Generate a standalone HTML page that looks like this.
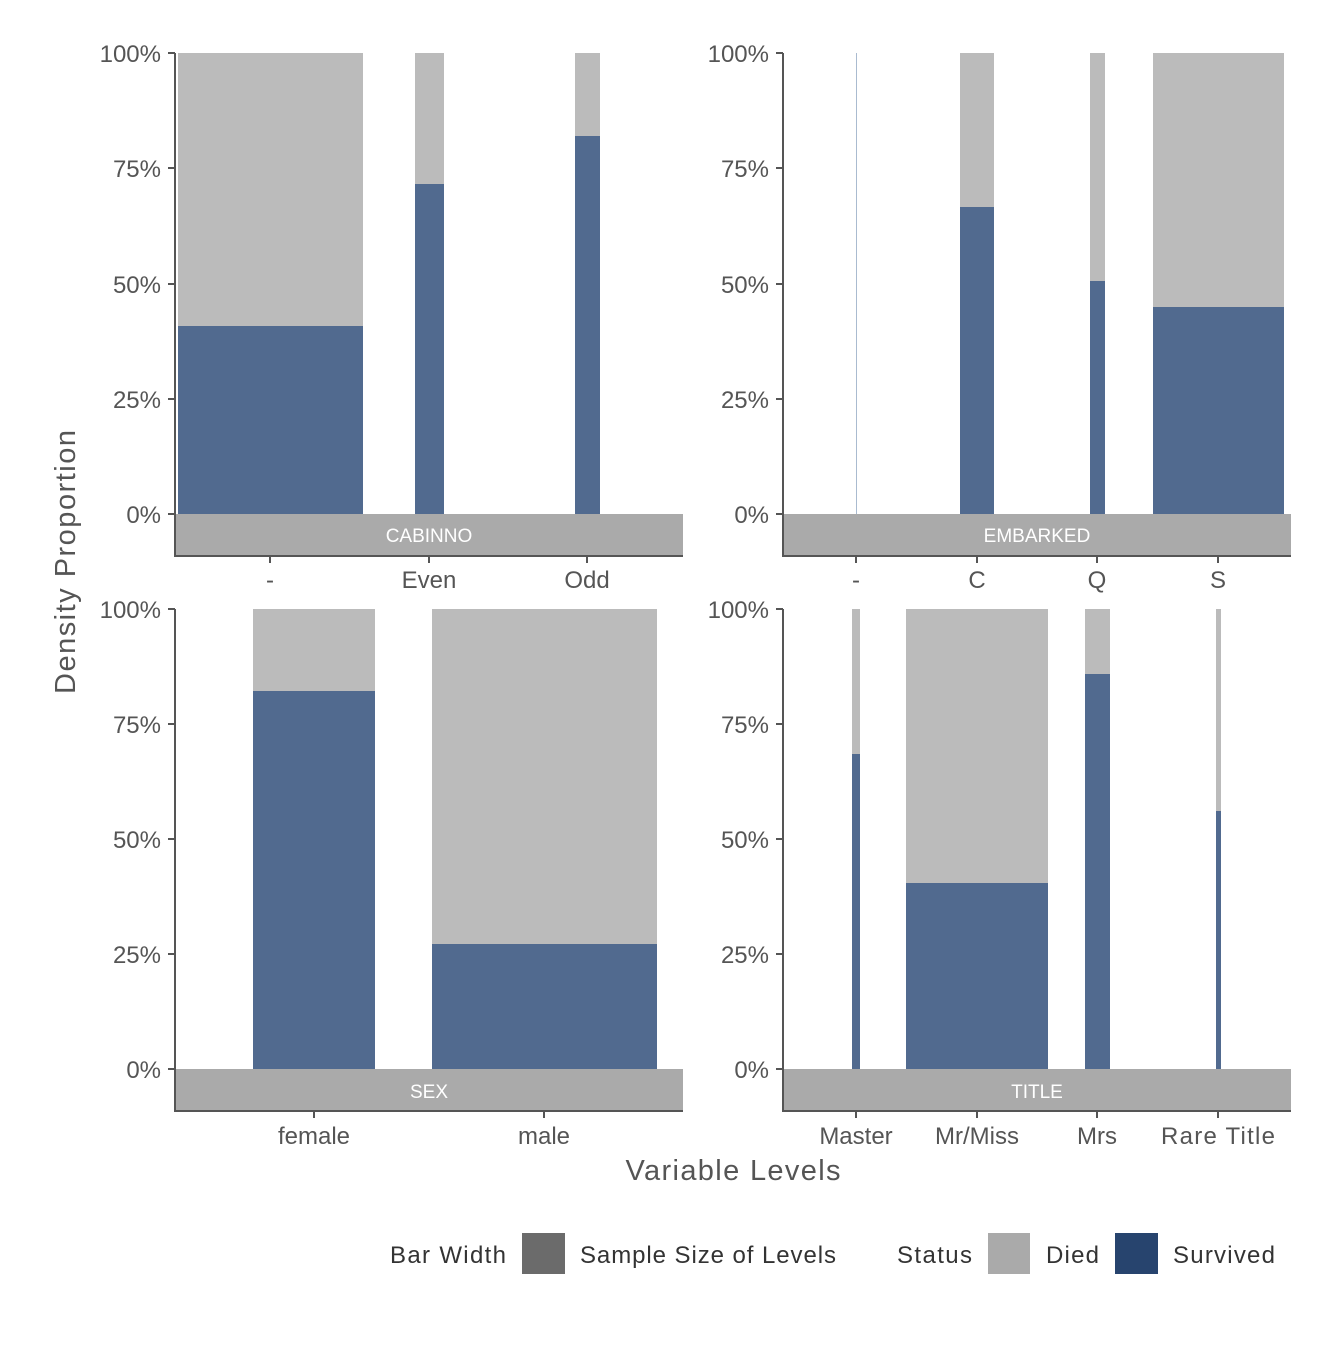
<!DOCTYPE html>
<html><head><style>body{margin:0;background:#fff}</style></head><body>
<svg width="1344" height="1344" xmlns="http://www.w3.org/2000/svg" font-family="Liberation Sans, sans-serif">
<rect width="1344" height="1344" fill="#fff"/>
<g fill="#bbbbbb">
<rect x="178" y="53" width="185" height="461"/><rect x="415" y="53" width="29" height="461"/><rect x="575" y="53" width="25" height="461"/>
<rect x="960" y="53" width="34" height="461"/><rect x="1090" y="53" width="15" height="461"/><rect x="1153" y="53" width="131" height="461"/>
<rect x="253" y="609" width="122" height="460"/><rect x="432" y="609" width="225" height="460"/>
<rect x="852" y="609" width="8" height="460"/><rect x="906" y="609" width="142" height="460"/><rect x="1085" y="609" width="25" height="460"/><rect x="1216" y="609" width="5" height="460"/>
</g>
<g fill="#516a8f">
<rect x="178" y="326" width="185" height="188"/><rect x="415" y="184" width="29" height="330"/><rect x="575" y="136" width="25" height="378"/>
<rect x="960" y="207" width="34" height="307"/><rect x="1090" y="281" width="15" height="233"/><rect x="1153" y="307" width="131" height="207"/>
<rect x="253" y="691" width="122" height="378"/><rect x="432" y="944" width="225" height="125"/>
<rect x="852" y="754" width="8" height="315"/><rect x="906" y="883" width="142" height="186"/><rect x="1085" y="674" width="25" height="395"/><rect x="1216" y="811" width="5" height="258"/>
</g>
<rect x="856" y="53" width="1" height="461" fill="#aabbd0"/>
<g fill="#aaaaaa"><rect x="175" y="514" width="508" height="42"/><rect x="783" y="514" width="508" height="42"/><rect x="175" y="1069" width="508" height="42"/><rect x="783" y="1069" width="508" height="42"/></g>
<g fill="#fff" font-size="19" text-anchor="middle"><text x="429" y="542">CABINNO</text><text x="1037" y="542">EMBARKED</text><text x="429" y="1098">SEX</text><text x="1037" y="1098">TITLE</text></g>
<g stroke="#555" stroke-width="2" fill="none">
<path d="M175 53V556H683M783 53V556H1291M175 609V1111H683M783 609V1111H1291"/>
<path d="M168 53H175M168 168H175M168 284H175M168 399H175M168 514H175M776 53H783M776 168H783M776 284H783M776 399H783M776 514H783M168 609H175M168 724H175M168 839H175M168 954H175M168 1069H175M776 609H783M776 724H783M776 839H783M776 954H783M776 1069H783"/>
<path d="M270 556v7M429 556v7M587 556v7M856 556v7M977 556v7M1097 556v7M1218 556v7M314 1111v7M544 1111v7M856 1111v7M977 1111v7M1097 1111v7M1218 1111v7"/>
</g>
<g fill="#555" font-size="24" text-anchor="end">
<text x="161" y="62">100%</text><text x="161" y="177">75%</text><text x="161" y="293">50%</text><text x="161" y="408">25%</text><text x="161" y="523">0%</text>
<text x="769" y="62">100%</text><text x="769" y="177">75%</text><text x="769" y="293">50%</text><text x="769" y="408">25%</text><text x="769" y="523">0%</text>
<text x="161" y="618">100%</text><text x="161" y="733">75%</text><text x="161" y="848">50%</text><text x="161" y="963">25%</text><text x="161" y="1078">0%</text>
<text x="769" y="618">100%</text><text x="769" y="733">75%</text><text x="769" y="848">50%</text><text x="769" y="963">25%</text><text x="769" y="1078">0%</text>
</g>
<g fill="#555" font-size="24" text-anchor="middle">
<text x="270" y="588">-</text><text x="429" y="588">Even</text><text x="587" y="588">Odd</text>
<text x="856" y="588">-</text><text x="977" y="588">C</text><text x="1097" y="588">Q</text><text x="1218" y="588">S</text>
<text x="314" y="1144">female</text><text x="544" y="1144">male</text>
<text x="856" y="1144">Master</text><text x="977" y="1144">Mr/Miss</text><text x="1097" y="1144">Mrs</text><text x="1218" y="1144" textLength="114">Rare Title</text>
<text x="733" y="1180" font-size="29" textLength="215">Variable Levels</text>
<text transform="translate(75,562) rotate(-90)" font-size="29" textLength="264">Density Proportion</text>
</g>
<g font-size="24" fill="#333">
<text x="506" y="1263" text-anchor="end" textLength="116">Bar Width</text>
<rect x="522" y="1233" width="43" height="41" fill="#6b6b6b"/>
<text x="580" y="1263" textLength="256">Sample Size of Levels</text>
<text x="897" y="1263" textLength="75">Status</text>
<rect x="988" y="1233" width="42" height="41" fill="#aaaaaa"/>
<text x="1046" y="1263" textLength="53">Died</text>
<rect x="1115" y="1233" width="43" height="41" fill="#27446e"/>
<text x="1173" y="1263" textLength="102">Survived</text>
</g>
</svg>
</body></html>
